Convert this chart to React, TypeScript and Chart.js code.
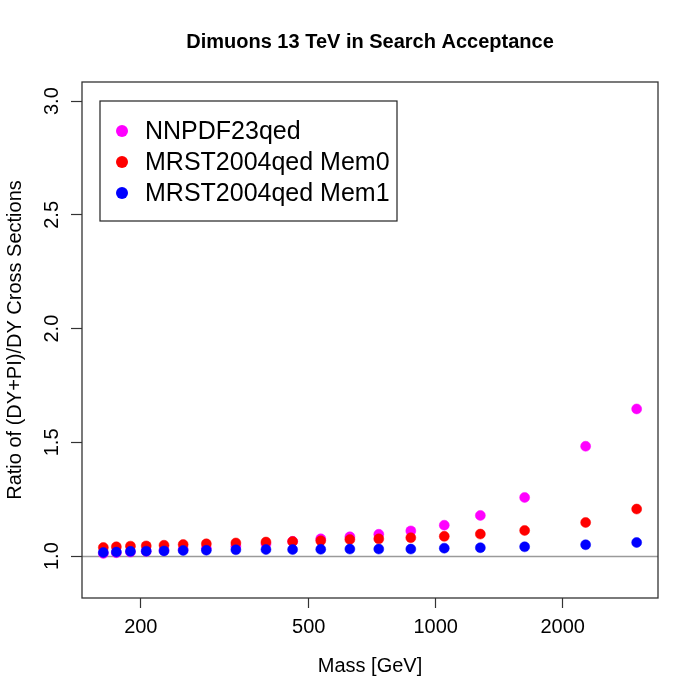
import React, { useEffect, useRef } from "react";
import { Chart, registerables } from "chart.js";

Chart.register(...registerables);

// ---- data ----
const masses = [163, 175, 189, 206, 227, 252, 286, 336, 396, 458, 534, 626, 733, 873, 1048, 1276, 1625, 2267, 2995];
const nnpdf23qed = [1.012, 1.015, 1.018, 1.021, 1.025, 1.029, 1.035, 1.043, 1.053, 1.065, 1.076, 1.085, 1.096, 1.111, 1.136, 1.179, 1.258, 1.483, 1.647];
const mrstMem0 = [1.038, 1.041, 1.044, 1.045, 1.048, 1.051, 1.054, 1.058, 1.062, 1.064, 1.068, 1.073, 1.076, 1.081, 1.087, 1.097, 1.113, 1.148, 1.207];
const mrstMem1 = [1.016, 1.018, 1.021, 1.022, 1.023, 1.025, 1.026, 1.028, 1.029, 1.029, 1.030, 1.031, 1.031, 1.031, 1.035, 1.037, 1.041, 1.050, 1.060];
const seriesNames = ["NNPDF23qed", "MRST2004qed Mem0", "MRST2004qed Mem1"];
const seriesColors = ["#FF00FF", "#FF0000", "#0000FF"];
const xTicks = [200, 500, 1000, 2000];
const yTicks = [1.0, 1.5, 2.0, 2.5, 3.0];
const yLimits = [0.9, 3.0];
const refLine = 1.0;
const titleText = "Dimuons 13 TeV in Search Acceptance";
const xTitle = "Mass [GeV]";
const yTitle = "Ratio of (DY+PI)/DY Cross Sections";

const FONT = "'Liberation Sans', Arial, Helvetica, sans-serif";

// R-style 4% axis extension
const yPad = (yLimits[1] - yLimits[0]) * 0.04;
const yMin = yLimits[0] - yPad;
const yMax = yLimits[1] + yPad;
const lxMin = Math.log10(Math.min(...masses));
const lxMax = Math.log10(Math.max(...masses));
const lxPad = (lxMax - lxMin) * 0.04;
const xMin = Math.pow(10, lxMin - lxPad);
const xMax = Math.pow(10, lxMax + lxPad);

const rPlotPlugin = {
  id: "rPlot",
  beforeDatasetsDraw(chart: any) {
    const { ctx, chartArea: a, scales } = chart;
    const y = Math.round(scales.y.getPixelForValue(refLine)) + 0.5;
    ctx.save();
    ctx.strokeStyle = "#9a9a9a";
    ctx.lineWidth = 1.4;
    ctx.beginPath();
    ctx.moveTo(a.left, y);
    ctx.lineTo(a.right, y);
    ctx.stroke();
    ctx.restore();
  },
  afterDraw(chart: any) {
    const { ctx, chartArea: a } = chart;
    ctx.save();
    // plot box
    ctx.strokeStyle = "#333";
    ctx.lineWidth = 1.3;
    ctx.strokeRect(a.left, a.top, a.right - a.left, a.bottom - a.top);
    // legend box
    const lx = a.left + 18;
    const ly = a.top + 19;
    const lw = 297;
    const lh = 120;
    ctx.fillStyle = "#fff";
    ctx.fillRect(lx, ly, lw, lh);
    ctx.strokeStyle = "#222";
    ctx.lineWidth = 1.2;
    ctx.strokeRect(lx, ly, lw, lh);
    ctx.font = `25px ${FONT}`;
    ctx.textBaseline = "middle";
    ctx.textAlign = "left";
    seriesNames.forEach((name, i) => {
      const cy = ly + 30 + i * 31;
      ctx.fillStyle = seriesColors[i];
      ctx.beginPath();
      ctx.arc(lx + 22, cy, 6, 0, Math.PI * 2);
      ctx.fill();
      ctx.fillStyle = "#000";
      ctx.fillText(name, lx + 45, cy + 1);
    });
    ctx.restore();
  },
};

export default function App() {
  const canvasRef = useRef<HTMLCanvasElement | null>(null);

  useEffect(() => {
    const canvas = canvasRef.current;
    if (!canvas) return;
    const seriesValues = [nnpdf23qed, mrstMem0, mrstMem1];
    const chart = new Chart(canvas, {
      type: "scatter",
      data: {
        datasets: seriesValues.map((vals, i) => ({
          label: seriesNames[i],
          data: masses.map((m, j) => ({ x: m, y: vals[j] })),
          backgroundColor: seriesColors[i],
          borderColor: seriesColors[i],
          borderWidth: 0.5,
          pointRadius: 5,
          pointHoverRadius: 5,
          order: 2 - i,
        })),
      },
      options: {
        responsive: false,
        animation: false,
        devicePixelRatio: 1,
        layout: { padding: { left: 0, right: 42, top: 0, bottom: 0 } },
        plugins: {
          legend: { display: false },
          tooltip: { enabled: false },
          title: {
            display: true,
            text: titleText,
            fullSize: false,
            color: "#000",
            font: { family: FONT, size: 20, weight: "bold" },
            padding: { top: 30, bottom: 28 },
          },
        },
        scales: {
          x: {
            type: "logarithmic",
            min: xMin,
            max: xMax,
            afterBuildTicks: (s: any) => {
              s.ticks = xTicks.map((v) => ({ value: v }));
            },
            afterFit: (s: any) => {
              s.height = 102;
            },
            ticks: {
              callback: (v: any) => String(v),
              color: "#000",
              font: { family: FONT, size: 20 },
              padding: 7,
              maxRotation: 0,
              minRotation: 0,
              autoSkip: false,
            },
            grid: {
              drawOnChartArea: false,
              drawTicks: true,
              tickLength: 10,
              tickColor: "#333",
              tickWidth: 1.2,
            },
            border: { display: false },
            title: {
              display: true,
              text: xTitle,
              color: "#000",
              font: { family: FONT, size: 20 },
              padding: { top: 0, bottom: 22 },
            },
          },
          y: {
            type: "linear",
            min: yMin,
            max: yMax,
            afterBuildTicks: (s: any) => {
              s.ticks = yTicks.map((v) => ({ value: v }));
            },
            afterFit: (s: any) => {
              s.width = 82;
            },
            ticks: {
              callback: (v: any) => Number(v).toFixed(1),
              color: "#000",
              font: { family: FONT, size: 20 },
              minRotation: 90,
              maxRotation: 90,
              crossAlign: "center",
              padding: 5,
              autoSkip: false,
            },
            grid: {
              drawOnChartArea: false,
              drawTicks: true,
              tickLength: 11,
              tickColor: "#333",
              tickWidth: 1.2,
            },
            border: { display: false },
            title: {
              display: true,
              text: yTitle,
              color: "#000",
              font: { family: FONT, size: 20 },
              padding: { top: 3, bottom: 0 },
            },
          },
        },
      },
      plugins: [rPlotPlugin],
    } as any);
    return () => chart.destroy();
  }, []);

  return (
    <div style={{ position: "absolute", left: 0, top: 0, width: 700, height: 700, background: "#fff" }}>
      <canvas ref={canvasRef} width={700} height={700} style={{ display: "block" }} />
    </div>
  );
}
